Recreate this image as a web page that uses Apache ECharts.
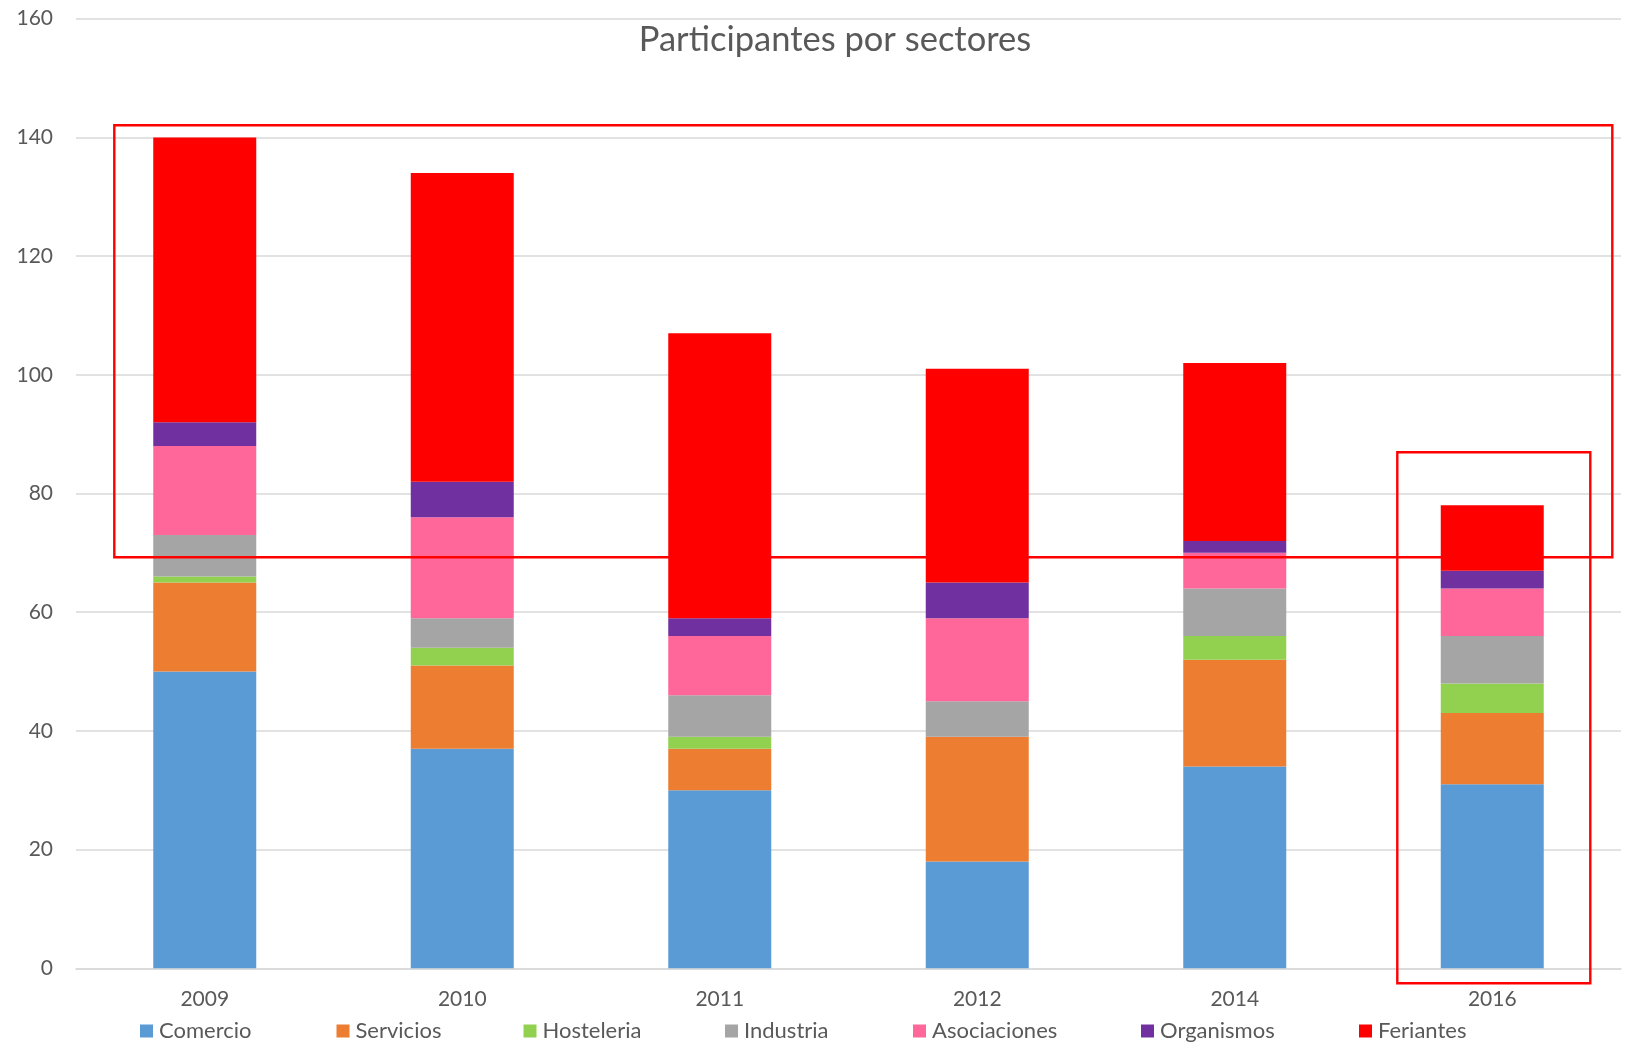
<!DOCTYPE html>
<html>
<head>
<meta charset="utf-8">
<script src="https://cdn.jsdelivr.net/npm/echarts@6/dist/echarts.min.js"></script>
<style>
html,body{margin:0;padding:0;background:#fff;}
#c{width:1632px;height:1044px;}
</style>
</head>
<body>
<div id="c"></div>
<script>
const categories = ['2009', '2010', '2011', '2012', '2014', '2016'];
const seriesNames = ['Comercio', 'Servicios', 'Hosteleria', 'Industria', 'Asociaciones', 'Organismos', 'Feriantes'];
const comercio     = [50, 37, 30, 18, 34, 31];
const servicios    = [15, 14, 7, 21, 18, 12];
const hosteleria   = [1, 3, 2, 0, 4, 5];
const industria    = [7, 5, 7, 6, 8, 8];
const asociaciones = [15, 17, 10, 14, 6, 8];
const organismos   = [4, 6, 3, 6, 2, 3];
const feriantes    = [48, 52, 48, 36, 30, 11];
const yTicks = [0, 20, 40, 60, 80, 100, 120, 140, 160];

const seriesValues = [comercio, servicios, hosteleria, industria, asociaciones, organismos, feriantes];
const colors = ['#5B9BD5', '#ED7D31', '#92D050', '#A5A5A5', '#FF6699', '#7030A0', '#FF0000'];
const legendLeft = [140, 336.5, 523.5, 725, 913, 1141, 1359];
const FONT = 'Lato';
const TXT = '#595959';

const chart = echarts.init(document.getElementById('c'), null, {renderer: 'canvas'});
const option = {
  animation: false,
  color: colors,
  textStyle: {fontFamily: FONT},
  title: {
    text: 'Participantes por sectores',
    left: 830, top: 17, textAlign: 'center',
    textStyle: {fontFamily: FONT, fontSize: 34.5, fontWeight: 'normal', color: TXT}
  },
  grid: {left: 76, right: 11, top: 18.7, bottom: 75.7, containLabel: false},
  legend: seriesNames.map((n, i) => ({
    data: [n], left: legendLeft[i], top: 1020,
    itemWidth: 13, itemHeight: 13, itemGap: 5, icon: 'rect', padding: 0,
    textStyle: {fontFamily: FONT, fontSize: 22, color: TXT, padding: [0, 0, 0, 1]}
  })),
  xAxis: {
    type: 'category', data: categories,
    axisLine: {show: true, lineStyle: {color: '#D9D9D9', width: 1.5}},
    axisTick: {show: false},
    axisLabel: {fontFamily: FONT, fontSize: 21, color: TXT, margin: 20}
  },
  yAxis: {
    type: 'value', min: yTicks[0], max: yTicks[yTicks.length - 1], interval: yTicks[1] - yTicks[0],
    axisLine: {show: false}, axisTick: {show: false},
    splitLine: {lineStyle: {color: '#D9D9D9', width: 1.5}},
    axisLabel: {fontFamily: FONT, fontSize: 21, color: TXT, margin: 23}
  },
  series: seriesNames.map((n, i) => ({
    name: n, type: 'bar', stack: 'total', barWidth: '40%',
    data: seriesValues[i],
    itemStyle: {color: colors[i]}
  })),
  graphic: [
    {type: 'rect', z: 100, shape: {x: 114.3, y: 125.3, width: 1498, height: 432},
     style: {fill: 'none', stroke: '#FF0000', lineWidth: 2.4}},
    {type: 'rect', z: 100, shape: {x: 1397.3, y: 452.3, width: 193, height: 531},
     style: {fill: 'none', stroke: '#FF0000', lineWidth: 2.4}}
  ]
};
chart.setOption(option);
</script>
</body>
</html>
